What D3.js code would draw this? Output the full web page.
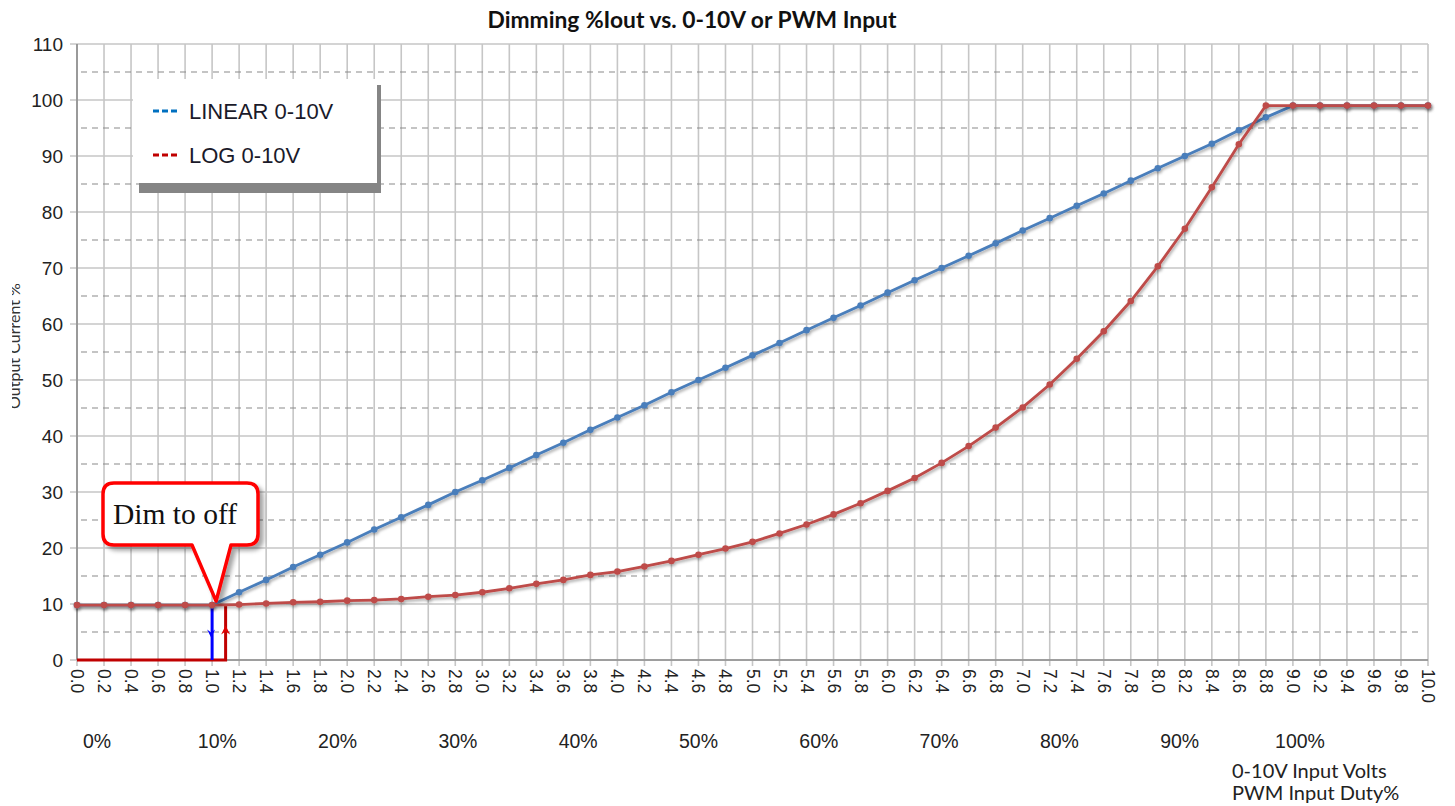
<!DOCTYPE html>
<html lang="en">
  <head>
    <meta charset="utf-8">
    <title>Dimming %Iout vs. 0-10V or PWM Input</title>
    <script type="text/javascript" src="https://cdn.jsdelivr.net/npm/d3@7"></script>
    <style type="text/css">
     body { margin: 0; background: #fff; }
     svg { display: block; }
    </style>
  </head>
  <body>
    <script type="text/javascript">

     // x categories: input volts, one every 0.2 V
     let voltLabels = ["0.0","0.2","0.4","0.6","0.8","1.0","1.2","1.4","1.6","1.8",
                       "2.0","2.2","2.4","2.6","2.8","3.0","3.2","3.4","3.6","3.8",
                       "4.0","4.2","4.4","4.6","4.8","5.0","5.2","5.4","5.6","5.8",
                       "6.0","6.2","6.4","6.6","6.8","7.0","7.2","7.4","7.6","7.8",
                       "8.0","8.2","8.4","8.6","8.8","9.0","9.2","9.4","9.6","9.8","10.0"];
     let linearVals = [9.8, 9.8, 9.8, 9.8, 9.8, 9.8, 12.1, 14.3, 16.6, 18.8,
                       21.0, 23.3, 25.5, 27.7, 30.0, 32.1, 34.3, 36.6, 38.8, 41.1,
                       43.3, 45.5, 47.8, 50.0, 52.2, 54.4, 56.6, 58.9, 61.1, 63.3,
                       65.6, 67.8, 70.0, 72.2, 74.4, 76.7, 78.9, 81.1, 83.3, 85.6,
                       87.8, 90.0, 92.2, 94.6, 96.9, 99, 99, 99, 99, 99, 99];
     let logVals = [9.8, 9.8, 9.8, 9.8, 9.8, 9.8, 9.9, 10.1, 10.3, 10.4,
                    10.6, 10.7, 10.9, 11.3, 11.6, 12.1, 12.8, 13.6, 14.3, 15.2,
                    15.8, 16.7, 17.7, 18.8, 19.9, 21.1, 22.6, 24.2, 26.0, 28.0,
                    30.2, 32.5, 35.2, 38.2, 41.5, 45.1, 49.2, 53.8, 58.7, 64.1,
                    70.3, 77.0, 84.4, 92.1, 99, 99, 99, 99, 99, 99, 99];
     let yTicks = [0, 10, 20, 30, 40, 50, 60, 70, 80, 90, 100, 110];
     let yMinor = [5, 15, 25, 35, 45, 55, 65, 75, 85, 95, 105];
     let dutyLabels = ["0%","10%","20%","30%","40%","50%","60%","70%","80%","90%","100%"];
     let seriesNames = ["LINEAR 0-10V", "LOG 0-10V"];
     // dim-to-off hysteresis: blue drops at 1.0 V, red comes back at 1.1 V
     let dimOffV = 1.0;
     let dimOnV = 1.1;
     let offLevel = 9.8;

     let w = 1455, h = 806;
     let margin = {top: 44, right: 27, bottom: 146, left: 77};

     let svg = d3.select("body").append("svg").attr("width", w).attr("height", h);
     let defs = svg.append("defs");
     let sh = defs.append("filter").attr("id", "shadow").attr("x", "-20%").attr("y", "-20%").attr("width", "140%").attr("height", "160%");
     sh.append("feDropShadow").attr("dx", 1).attr("dy", 2).attr("stdDeviation", 1.5).attr("flood-color", "#000").attr("flood-opacity", 0.35);
     let sh2 = defs.append("filter").attr("id", "callshadow").attr("x", "-20%").attr("y", "-20%").attr("width", "140%").attr("height", "150%");
     sh2.append("feDropShadow").attr("dx", 4).attr("dy", 4).attr("stdDeviation", 2).attr("flood-color", "#000").attr("flood-opacity", 0.35);
     defs.append("clipPath").attr("id", "ytclip")
         .append("rect").attr("x", 12).attr("y", 0).attr("width", 40).attr("height", h);

     let xScale = d3.scaleLinear().domain([0, 10]).range([margin.left, w - margin.right]);
     let yScale = d3.scaleLinear().domain([0, 110]).range([h - margin.bottom, margin.top]);
     let dutyScale = d3.scaleLinear().domain([0, 100]).range([97, 1300]);

     let volts = voltLabels.map(s => +s);

     // title
     svg.append("text")
        .attr("x", 692).attr("y", 28)
        .attr("text-anchor", "middle")
        .attr("font-family", "Lato, 'Open Sans', sans-serif")
        .attr("font-weight", "bold")
        .attr("font-size", "22.8px")
        .attr("fill", "#111")
        .text("Dimming %Iout vs. 0-10V or PWM Input");

     // vertical grid
     let grid = svg.append("g");
     grid.selectAll("line.v")
         .data(volts)
         .enter()
         .append("line")
         .attr("x1", d => xScale(d)).attr("x2", d => xScale(d))
         .attr("y1", yScale(110)).attr("y2", yScale(0) + 6)
         .attr("stroke", "#c6c6c6").attr("stroke-width", 1.6);
     // horizontal solid grid
     grid.selectAll("line.h")
         .data(yTicks)
         .enter()
         .append("line")
         .attr("x1", margin.left - 7).attr("x2", xScale(10))
         .attr("y1", d => yScale(d)).attr("y2", d => yScale(d))
         .attr("stroke", "#c6c6c6").attr("stroke-width", 1.6);
     // dashed minor grid
     grid.selectAll("line.m")
         .data(yMinor)
         .enter()
         .append("line")
         .attr("x1", margin.left + 4).attr("x2", xScale(10) - 6)
         .attr("y1", d => yScale(d)).attr("y2", d => yScale(d))
         .attr("stroke", "#8a8a8a").attr("stroke-width", 1.2)
         .attr("stroke-dasharray", "6,5");

     // axes lines
     svg.append("line")
        .attr("x1", margin.left).attr("x2", margin.left)
        .attr("y1", yScale(110)).attr("y2", yScale(0))
        .attr("stroke", "#8c8c8c").attr("stroke-width", 1.6);
     svg.append("line")
        .attr("x1", margin.left).attr("x2", xScale(10))
        .attr("y1", yScale(0)).attr("y2", yScale(0))
        .attr("stroke", "#8c8c8c").attr("stroke-width", 1.6);

     // y tick labels
     svg.selectAll("text.ytick")
        .data(yTicks)
        .enter()
        .append("text")
        .attr("x", 63)
        .attr("y", d => yScale(d) + 7)
        .attr("text-anchor", "end")
        .attr("font-family", "'Liberation Sans', Arial, sans-serif")
        .attr("font-size", "19px")
        .attr("fill", "#222")
        .text(d => d);

     // x tick labels, rotated clockwise
     svg.selectAll("text.xtick")
        .data(voltLabels)
        .enter()
        .append("text")
        .attr("transform", d => "translate(" + (xScale(+d) - 6) + "," + (yScale(0) + 9) + ") rotate(90)")
        .attr("text-anchor", "start")
        .attr("font-family", "'Liberation Sans', Arial, sans-serif")
        .attr("font-size", "17.5px")
        .attr("fill", "#222")
        .text(d => d);

     // PWM duty labels
     svg.selectAll("text.duty")
        .data(dutyLabels)
        .enter()
        .append("text")
        .attr("x", (d, i) => dutyScale(i * 10))
        .attr("y", 748)
        .attr("text-anchor", "middle")
        .attr("font-family", "'Liberation Sans', Arial, sans-serif")
        .attr("font-size", "19.5px")
        .attr("fill", "#222")
        .text(d => d);

     // axis titles
     svg.append("text")
        .attr("x", 1232).attr("y", 778)
        .attr("font-family", "Lato, 'Open Sans', sans-serif")
        .attr("font-size", "20px")
        .attr("fill", "#222")
        .text("0-10V Input Volts");
     svg.append("text")
        .attr("x", 1232).attr("y", 800)
        .attr("font-family", "Lato, 'Open Sans', sans-serif")
        .attr("font-size", "20px")
        .attr("fill", "#222")
        .text("PWM Input Duty%");
     // y title is partly cut off in the original
     svg.append("g")
        .attr("clip-path", "url(#ytclip)")
        .append("text")
        .attr("transform", "translate(20,346) rotate(-90)")
        .attr("text-anchor", "middle")
        .attr("font-family", "Lato, 'Open Sans', sans-serif")
        .attr("font-size", "16px")
        .attr("fill", "#333")
        .text("Output Current %");

     // off/on hysteresis lines
     let stepLine = d3.line().x(d => xScale(d[0])).y(d => yScale(d[1]));
     svg.append("path")
        .attr("d", stepLine([[0, 0], [dimOnV, 0], [dimOnV, offLevel]]))
        .attr("fill", "none").attr("stroke", "#c00000").attr("stroke-width", 3);
     svg.append("path")
        .attr("d", stepLine([[dimOffV, offLevel], [dimOffV, 0]]))
        .attr("fill", "none").attr("stroke", "#0000ff").attr("stroke-width", 3);
     // little arrows
     let ax = xScale(dimOffV) - 1, ay = yScale(offLevel / 2);
     svg.append("path")
        .attr("d", "M" + (ax - 4) + "," + (ay - 3) + " L" + ax + "," + (ay + 5) + " L" + (ax + 4) + "," + (ay - 3) + " L" + ax + "," + ay + "Z")
        .attr("fill", "#0000ff");
     let bx = xScale(dimOnV), by = yScale(offLevel / 2) - 1;
     svg.append("path")
        .attr("d", "M" + (bx - 4.5) + "," + (by + 3) + " L" + bx + "," + (by - 6) + " L" + (bx + 4.5) + "," + (by + 3) + " L" + bx + "," + by + "Z")
        .attr("fill", "#e00000");

     // series
     let series = [
       {name: seriesNames[0], vals: linearVals, color: "#4a7ebb"},
       {name: seriesNames[1], vals: logVals, color: "#be4b48"}
     ];
     let line = d3.line().x((d, i) => xScale(volts[i])).y(d => yScale(d));
     series.forEach(s => {
       let g = svg.append("g").attr("filter", "url(#shadow)");
       g.append("path")
        .attr("d", line(s.vals))
        .attr("fill", "none")
        .attr("stroke", s.color)
        .attr("stroke-width", 2.8);
       g.selectAll("circle")
        .data(s.vals)
        .enter()
        .append("circle")
        .attr("cx", (d, i) => xScale(volts[i]))
        .attr("cy", d => yScale(d))
        .attr("r", 3.3)
        .attr("fill", s.color);
     });

     // callout "Dim to off"
     let cx0 = 103, cx1 = 258, cy0 = 483, cy1 = 545, r = 11;
     let tipX = xScale(dimOffV) + 4, tipY = yScale(offLevel) - 4;
     let callout = "M" + (cx0 + r) + "," + cy0 +
                   " H" + (cx1 - r) + " Q" + cx1 + "," + cy0 + " " + cx1 + "," + (cy0 + r) +
                   " V" + (cy1 - r) + " Q" + cx1 + "," + cy1 + " " + (cx1 - r) + "," + cy1 +
                   " H231 L" + tipX + "," + tipY + " L192," + cy1 +
                   " H" + (cx0 + r) + " Q" + cx0 + "," + cy1 + " " + cx0 + "," + (cy1 - r) +
                   " V" + (cy0 + r) + " Q" + cx0 + "," + cy0 + " " + (cx0 + r) + "," + cy0 + "Z";
     svg.append("path")
        .attr("d", callout)
        .attr("fill", "#fff")
        .attr("stroke", "#ff0000")
        .attr("stroke-width", 3.5)
        .attr("stroke-linejoin", "round")
        .attr("filter", "url(#callshadow)");
     svg.append("text")
        .attr("x", 113).attr("y", 524)
        .attr("font-family", "'Liberation Serif', 'DejaVu Serif', serif")
        .attr("font-size", "29.5px")
        .attr("fill", "#111")
        .text("Dim to off");

     // legend
     let lg = svg.append("g");
     lg.append("rect").attr("x", 139).attr("y", 85).attr("width", 242).attr("height", 108).attr("fill", "#858585");
     lg.append("rect").attr("x", 133).attr("y", 79).attr("width", 244).attr("height", 104).attr("fill", "#fff");
     let legColors = ["#0070c0", "#c00000"];
     seriesNames.forEach((n, i) => {
       let yy = 111 + i * 44;
       lg.append("line")
         .attr("x1", 153).attr("x2", 179)
         .attr("y1", yy).attr("y2", yy)
         .attr("stroke", legColors[i]).attr("stroke-width", 3)
         .attr("stroke-dasharray", "6,3");
       lg.append("text")
         .attr("x", 189).attr("y", yy + 8)
         .attr("font-family", "'Liberation Sans', Arial, sans-serif")
         .attr("font-size", "22px")
         .attr("fill", "#1a1a2a")
         .text(n);
     });
    </script>
  </body>
</html>
